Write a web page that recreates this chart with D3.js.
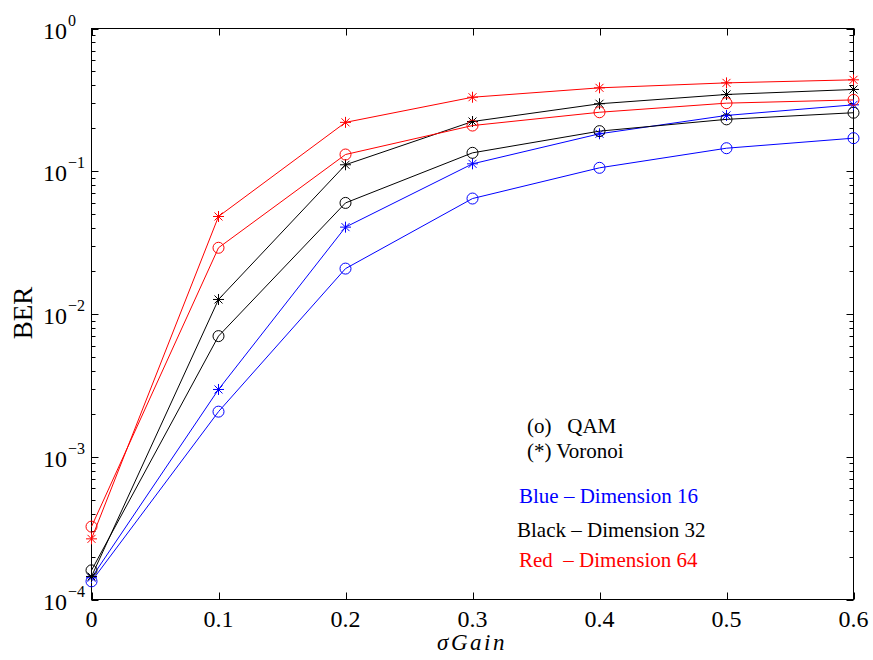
<!DOCTYPE html>
<html><head><meta charset="utf-8">
<script src="https://cdn.jsdelivr.net/npm/d3@7"></script>
<style>body{margin:0;background:#fff}svg{display:block}text{font-family:"Liberation Serif","Times New Roman",serif}</style>
</head><body><svg id="c" width="873" height="660"></svg>
<script>
const gains = [0, 0.1, 0.2, 0.3, 0.4, 0.5, 0.6];
const qam16 = [1.34e-4, 0.00207, 0.0208, 0.0644, 0.1057, 0.145, 0.1705];
const vor16 = [1.42e-4, 0.00296, 0.0406, 0.1127, 0.183, 0.246, 0.292];
const qam32 = [1.6e-4, 0.00700, 0.060, 0.1346, 0.191, 0.231, 0.257];
const vor32 = [1.45e-4, 0.01264, 0.111, 0.223, 0.297, 0.345, 0.374];
const qam64 = [3.24e-4, 0.0291, 0.131, 0.209, 0.259, 0.300, 0.316];
const vor64 = [2.66e-4, 0.0482, 0.220, 0.330, 0.384, 0.416, 0.437];
const xTicks = [0, 0.1, 0.2, 0.3, 0.4, 0.5, 0.6];
const yExps = [-4, -3, -2, -1, 0];
const series = [
  {v: qam16, c: "#0000ff", m: "o"}, {v: vor16, c: "#0000ff", m: "*"},
  {v: qam32, c: "#000000", m: "o"}, {v: vor32, c: "#000000", m: "*"},
  {v: qam64, c: "#ff0000", m: "o"}, {v: vor64, c: "#ff0000", m: "*"}
];
const L = 91.5, R = 853.5, T = 28.5, B = 599.5;
const svg = d3.select("#c");
const x = d3.scaleLinear().domain([0, 0.6]).range([L, R]);
const y = d3.scaleLog().domain([1e-4, 1]).range([B, T]);

svg.append("rect").attr("x", L).attr("y", T).attr("width", R - L).attr("height", B - T)
  .attr("fill", "none").attr("stroke", "#000").attr("stroke-width", 1);

xTicks.forEach(t => {
  const px = Math.round(x(t)) + 0.5;
  svg.append("line").attr("x1", px).attr("x2", px).attr("y1", B).attr("y2", B - 7).attr("stroke", "#000");
  svg.append("line").attr("x1", px).attr("x2", px).attr("y1", T).attr("y2", T + 7).attr("stroke", "#000");
  svg.append("text").attr("x", x(t)).attr("y", 627).attr("text-anchor", "middle")
    .attr("font-size", 24).text(t === 0 ? "0" : d3.format(".1f")(t));
});
yExps.forEach(e => {
  const py = Math.round(y(Math.pow(10, e))) + 0.5;
  svg.append("line").attr("x1", L).attr("x2", L + 7).attr("y1", py).attr("y2", py).attr("stroke", "#000");
  svg.append("line").attr("x1", R).attr("x2", R - 7).attr("y1", py).attr("y2", py).attr("stroke", "#000");
  svg.append("text").attr("x", 67).attr("y", py + 9).attr("text-anchor", "end").attr("font-size", 24).text("10");
  svg.append("text").attr("x", 68).attr("y", py - 4).attr("font-size", 16).text(e === 0 ? "0" : "\u2212" + (-e));
  if (e > -4) {
    for (let k = 2; k <= 9; k++) {
      const my = Math.round(y(k * Math.pow(10, e - 1))) + 0.5;
      svg.append("line").attr("x1", L).attr("x2", L + 4).attr("y1", my).attr("y2", my).attr("stroke", "#000");
      svg.append("line").attr("x1", R).attr("x2", R - 4).attr("y1", my).attr("y2", my).attr("stroke", "#000");
    }
  }
});

const line = d3.line().x((d, i) => x(gains[i])).y(d => y(d));
series.forEach(s => {
  svg.append("path").attr("d", line(s.v)).attr("fill", "none").attr("stroke", s.c).attr("stroke-width", 1);
  s.v.forEach((d, i) => {
    const cx = x(gains[i]), cy = y(d);
    if (s.m === "o") {
      svg.append("circle").attr("cx", cx).attr("cy", cy).attr("r", 5.5).attr("fill", "none").attr("stroke", s.c).attr("stroke-width", 1);
    } else {
      const r = 5.5, q = 4;
      const p = `M${cx - r},${cy}L${cx + r},${cy}M${cx},${cy - r}L${cx},${cy + r}M${cx - q},${cy - q}L${cx + q},${cy + q}M${cx - q},${cy + q}L${cx + q},${cy - q}`;
      svg.append("path").attr("d", p).attr("stroke", s.c).attr("stroke-width", 1).attr("fill", "none");
    }
  });
});

svg.append("text").attr("transform", "translate(32,313) rotate(-90)").attr("text-anchor", "middle")
  .attr("font-size", 27).text("BER");
svg.append("text").attr("x", 472).attr("y", 650).attr("text-anchor", "middle").attr("font-size", 23)
  .attr("font-style", "italic").attr("letter-spacing", 2.5).text("\u03c3Gain");

const ann = [
  {t: "(o)   QAM", x: 527, y: 433, c: "#000"},
  {t: "(*) Voronoi", x: 527, y: 458, c: "#000"},
  {t: "Blue \u2013 Dimension 16", x: 519, y: 503, c: "#0000ff"},
  {t: "Black \u2013 Dimension 32", x: 517, y: 537, c: "#000"},
  {t: "Red  \u2013 Dimension 64", x: 519, y: 567, c: "#ff0000"}
];
ann.forEach(a => svg.append("text").attr("x", a.x).attr("y", a.y).attr("fill", a.c)
  .attr("font-size", 21).style("white-space", "pre").text(a.t));
</script></body></html>
